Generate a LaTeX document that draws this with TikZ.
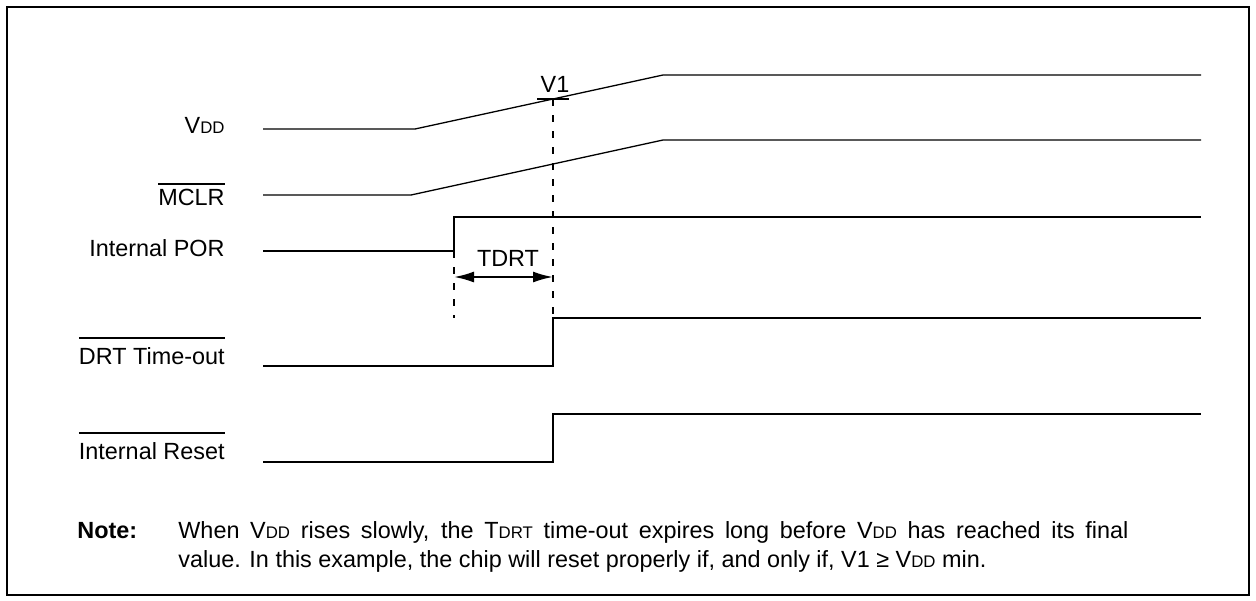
\documentclass[tikz,border=0pt]{standalone}
\usepackage{fontspec}
\setmainfont{Liberation Sans}
\usetikzlibrary{arrows.meta}

\newcommand{\smc}[1]{{\fontsize{8.4}{10}\selectfont #1}}
\newcommand{\barsig}[2][4pt]{\setbox0\hbox{#2}\vbox{\hrule height 1pt width \wd0\kern #1\box0}}

\begin{document}
\begin{tikzpicture}[x=0.5pt,y=-0.5pt,
  every node/.style={inner sep=0pt,font=\fontsize{11.7}{14}\selectfont},
  lbl/.style={anchor=base east},
  ramp/.style={line width=0.65pt},
  sig/.style={line width=1pt},
  guide/.style={line width=1pt,dash pattern=on 3.5pt off 4.5pt},
  dim/.style={line width=1pt,{Latex[length=10pt,width=5.5pt]}-{Latex[length=10pt,width=5.5pt]}}]
\useasboundingbox (0,0) rectangle (1256,600);
\draw [line width=1pt] (7,7) rectangle (1249,595);
% signal names
\node [lbl] (vdd) at (225,133) {V\smc{DD}};
\node [lbl] (mclr) at (225,205) {\barsig[2pt]{MCLR}};
\node [lbl] (por) at (225,256) {Internal POR};
\node [lbl] (drt) at (225,364) {\barsig[4pt]{DRT Time-out}};
\node [lbl] (rst) at (225,459) {\barsig[4pt]{Internal Reset}};
% waveforms
\coordinate (v1) at (553,99);
\coordinate (porlo) at (454,251);
\coordinate (drtup) at (553,318);
\draw [ramp] (263,129) -- (415,129) -- (v1) -- (663,75) -- (1201,75);
\draw [ramp] (263,195) -- (411,195) -- (663,140) -- (1201,140);
\draw [sig] (263,251) -- (porlo) -- (454,217) -- (1201,217);
\draw [sig] (263,366) -- (553,366) -- (drtup) -- (1201,318);
\draw [sig] (263,462) -- (553,462) -- (553,414) -- (1201,414);
% V1 level and DRT interval
\draw [line width=1pt] (537,99) -- (569,99);
\node [anchor=base] (v1txt) at (555,92) {V1};
\draw [guide] (v1) -- (drtup);
\draw [guide] (porlo) -- (454,318);
\coordinate (ta) at (454,277);
\coordinate (tb) at (553,277);
\draw [dim] (ta) -- (tb);
\node [anchor=base] (tdrt) at (508,266) {TDRT};
% note
\node [anchor=base west,font=\fontsize{11.7}{14}\selectfont\bfseries] (note) at (77,538) {Note:};
\node [anchor=base west] (noteA) at (178,538) {\hbox to 475pt{When V\smc{DD} rises slowly, the T\smc{DRT} time-out expires long before V\smc{DD} has reached its final}};
\node [anchor=base west] (noteB) at (178,567) {value. In this example, the chip will reset properly if, and only if, V1 ≥ V\smc{DD} min.};
\end{tikzpicture}
\end{document}
